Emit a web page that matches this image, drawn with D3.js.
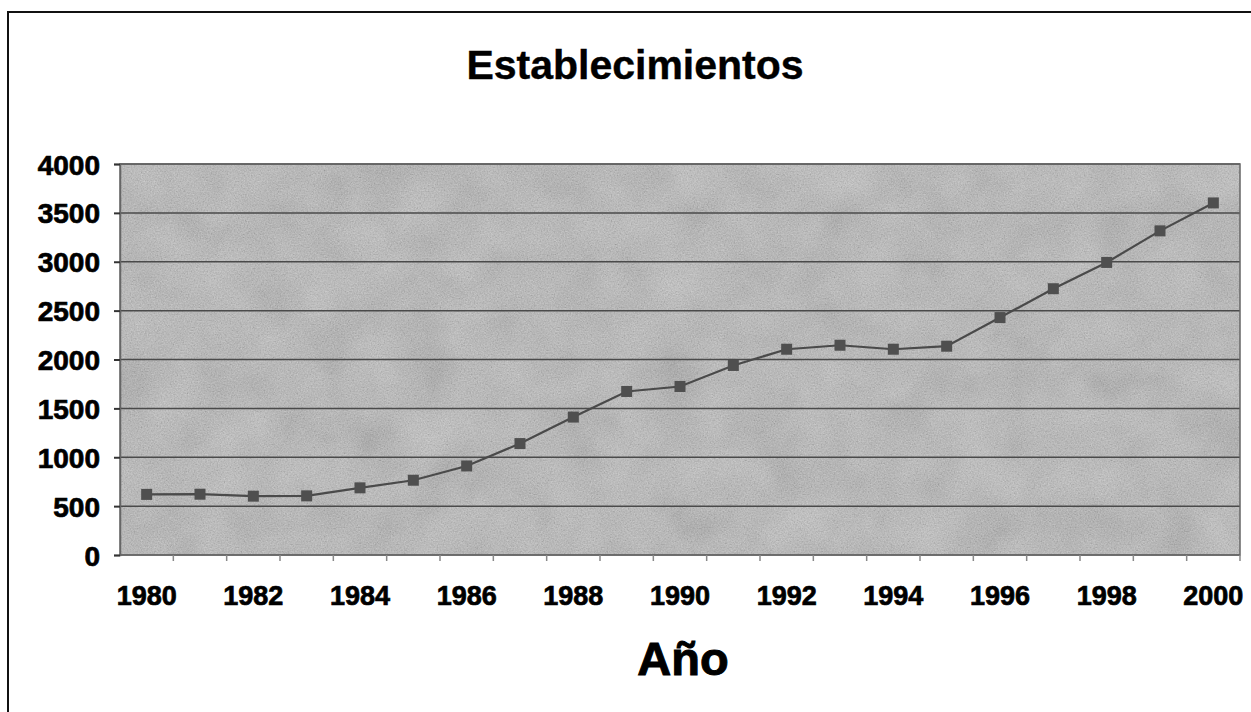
<!DOCTYPE html>
<html>
<head>
<meta charset="utf-8">
<script src="https://cdn.jsdelivr.net/npm/d3@7"></script>
<style>
  body { margin: 0; background: #fff; }
  text { font-family: "Liberation Sans", Arial, sans-serif; font-weight: bold; fill: #000;
         stroke: #000; stroke-width: 0.7px; }
</style>
</head>
<body>
<div id="chart"></div>
<script>
const years = d3.range(1980, 2001);
const establecimientos = [620, 622, 602, 605, 687, 765, 911, 1140, 1411, 1673, 1724,
    1939, 2105, 2146, 2105, 2136, 2429, 2724, 2993, 3316, 3602];
const yTicks = [0, 500, 1000, 1500, 2000, 2500, 3000, 3500, 4000];
const xLabels = [1980, 1982, 1984, 1986, 1988, 1990, 1992, 1994, 1996, 1998, 2000];

const width = 1251;
const height = 712;
const margin = { top: 164, right: 11, bottom: 157, left: 120 };

const svg = d3.select('#chart')
    .append('svg')
    .attr('width', width)
    .attr('height', height);

// texture for the plot area
const defs = svg.append('defs');
const grey = '0.33 0.33 0.33 0 0  0.33 0.33 0.33 0 0  0.33 0.33 0.33 0 0  0 0 0 0 1';
const fine = defs.append('filter').attr('id', 'fine')
    .attr('x', 0).attr('y', 0).attr('width', 1).attr('height', 1);
fine.append('feTurbulence')
    .attr('type', 'fractalNoise').attr('baseFrequency', 0.7)
    .attr('numOctaves', 2).attr('seed', 4);
fine.append('feColorMatrix').attr('type', 'matrix').attr('values', grey);
const coarse = defs.append('filter').attr('id', 'coarse')
    .attr('x', 0).attr('y', 0).attr('width', 1).attr('height', 1);
coarse.append('feTurbulence')
    .attr('type', 'fractalNoise').attr('baseFrequency', 0.02)
    .attr('numOctaves', 3).attr('seed', 9);
coarse.append('feColorMatrix').attr('type', 'matrix').attr('values', grey);

// outer frame (only left and top edges visible)
svg.append('rect')
    .attr('x', 8).attr('y', 12)
    .attr('width', width + 20).attr('height', height + 20)
    .attr('fill', 'none')
    .attr('stroke', '#111')
    .attr('stroke-width', 2);

const x = d3.scaleBand()
    .domain(years)
    .range([margin.left, width - margin.right]);

const y = d3.scaleLinear()
    .domain([0, 4000])
    .range([height - margin.bottom, margin.top]);

const pw = width - margin.right - margin.left;
const ph = height - margin.bottom - margin.top;

// plot background
svg.append('rect')
    .attr('x', margin.left).attr('y', margin.top)
    .attr('width', pw).attr('height', ph)
    .attr('fill', '#b4b4b4');
svg.append('rect')
    .attr('x', margin.left).attr('y', margin.top)
    .attr('width', pw).attr('height', ph)
    .attr('filter', 'url(#coarse)')
    .attr('opacity', 0.4);
svg.append('rect')
    .attr('x', margin.left).attr('y', margin.top)
    .attr('width', pw).attr('height', ph)
    .attr('filter', 'url(#fine)')
    .attr('opacity', 0.45);

// horizontal gridlines
svg.append('g')
    .selectAll('line')
    .data(yTicks.slice(1))
    .enter()
    .append('line')
    .attr('x1', margin.left)
    .attr('x2', width - margin.right)
    .attr('y1', d => y(d))
    .attr('y2', d => y(d))
    .attr('stroke', '#4a4a4a')
    .attr('stroke-width', 1.5);

// plot border
svg.append('rect')
    .attr('x', margin.left).attr('y', margin.top)
    .attr('width', pw).attr('height', ph)
    .attr('fill', 'none')
    .attr('stroke', '#666')
    .attr('stroke-width', 1.5);

// y axis
const yAxis = svg.append('g')
    .attr('transform', `translate(${margin.left},0)`)
    .call(d3.axisLeft(y).tickValues(yTicks).tickFormat(d3.format('d')).tickSize(6).tickPadding(14));
yAxis.select('.domain').attr('stroke', '#666').attr('stroke-width', 1.5);
yAxis.selectAll('.tick line').attr('stroke', '#333').attr('stroke-width', 2);
yAxis.selectAll('.tick text').style('font-size', '28px').attr('dy', '0.36em').attr('fill', '#000');

// x axis: ticks on category boundaries, labels every other year
const xAxis = svg.append('g')
    .attr('transform', `translate(0,${height - margin.bottom})`);
xAxis.append('line')
    .attr('x1', margin.left).attr('x2', width - margin.right)
    .attr('stroke', '#666').attr('stroke-width', 1.5);
xAxis.selectAll('line.tk')
    .data(years)
    .enter()
    .append('line')
    .attr('class', 'tk')
    .attr('x1', d => x(d) + x.bandwidth())
    .attr('x2', d => x(d) + x.bandwidth())
    .attr('y1', 0).attr('y2', 6)
    .attr('stroke', '#888').attr('stroke-width', 1.5);
xAxis.selectAll('text')
    .data(xLabels)
    .enter()
    .append('text')
    .attr('x', d => x(d) + x.bandwidth() / 2)
    .attr('y', 50)
    .attr('text-anchor', 'middle')
    .style('font-size', '27px')
    .text(d => d);

// series line
const line = d3.line()
    .x((d, i) => x(years[i]) + x.bandwidth() / 2)
    .y(d => y(d));

svg.append('path')
    .datum(establecimientos)
    .attr('d', line)
    .attr('fill', 'none')
    .attr('stroke', '#4a4a4a')
    .attr('stroke-width', 2.2);

const ms = 11;
svg.append('g')
    .selectAll('rect')
    .data(establecimientos)
    .enter()
    .append('rect')
    .attr('x', (d, i) => x(years[i]) + x.bandwidth() / 2 - ms / 2)
    .attr('y', d => y(d) - ms / 2)
    .attr('width', ms)
    .attr('height', ms)
    .attr('fill', '#4f4f4f');

// title
svg.append('text')
    .attr('x', 635)
    .attr('y', 79)
    .attr('text-anchor', 'middle')
    .style('font-size', '41px')
    .style('stroke-width', '0.4px')
    .text('Establecimientos');

// x axis title
svg.append('text')
    .attr('x', 683)
    .attr('y', 675)
    .attr('text-anchor', 'middle')
    .style('font-size', '47px')
    .style('stroke-width', '1px')
    .text('Año');
</script>
</body>
</html>
